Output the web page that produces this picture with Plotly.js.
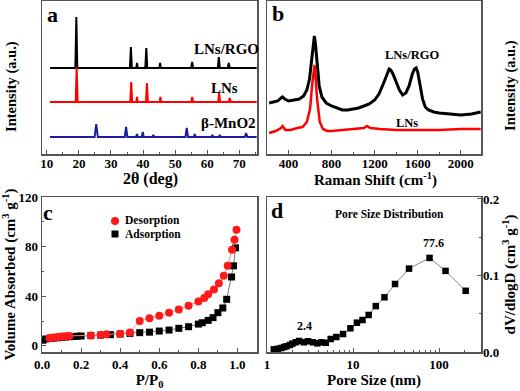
<!DOCTYPE html>
<html>
<head>
<meta charset="utf-8">
<script src="https://cdn.plot.ly/plotly-3.0.1.min.js"></script>
<style>
  html, body { margin: 0; padding: 0; background: #fff; }
  #chart { width: 520px; height: 391px; }
</style>
</head>
<body>
<div id="chart"></div>
<script>
// (a) XRD patterns, 2θ in degrees, intensity in arbitrary units (offset per curve)
const xrdRgoX = [11, 18.9, 19.2, 19.5, 35.9, 36.2, 36.5, 37.9, 38.1, 38.3, 40.7, 41.0, 41.3, 45.1, 45.3, 45.5,
                 55.0, 55.3, 55.6, 63.3, 63.6, 63.9, 66.4, 66.7, 67.0, 75.4];
const xrdRgoY = [86, 86, 137, 86, 86, 107, 86, 86, 91, 86, 86, 106, 86, 86, 91, 86,
                 86, 92, 86, 86, 97, 86, 86, 91, 86, 86];
const xrdLnsX = [11, 19.0, 19.3, 19.6, 36.0, 36.3, 36.6, 37.9, 38.1, 38.3, 40.9, 41.2, 41.5, 45.2, 45.4, 45.6,
                 55.0, 55.3, 55.6, 63.4, 63.7, 64.0, 66.7, 67.0, 67.3, 75.4];
const xrdLnsY = [52, 52, 87, 52, 52, 72, 52, 52, 57, 52, 52, 71, 52, 52, 57, 52,
                 52, 57, 52, 52, 61, 52, 52, 56, 52, 52];
const xrdMnoX = [11, 24.9, 25.4, 25.9, 34.3, 34.7, 35.1, 37.8, 38.1, 38.4, 39.6, 39.9, 40.2, 42.9, 43.2, 43.5,
                 53.2, 53.6, 54.0, 55.8, 56.1, 56.4, 61.3, 61.6, 61.9, 63.6, 63.9, 64.2, 71.7, 72.1, 72.5, 75.4];
const xrdMnoY = [17, 17, 30, 17, 17, 27, 17, 17, 20, 17, 17, 22, 17, 17, 19, 17,
                 17, 26, 17, 17, 20, 17, 17, 19, 17, 17, 19, 17, 17, 21, 17, 17];

// (b) Raman spectra, shift in cm-1
const ramRgoX = [220, 260, 300, 330, 345, 365, 400, 450, 500, 540, 570, 595, 615, 630, 640, 650, 665, 685, 710,
                 750, 800, 850, 900, 950, 1000, 1050, 1100, 1150, 1200, 1240, 1280, 1310, 1335, 1350, 1370, 1400,
                 1430, 1460, 1490, 1520, 1550, 1570, 1585, 1600, 1620, 1645, 1670, 1700, 1750, 1800, 1900, 2000,
                 2100, 2185];
const ramRgoY = [51, 52, 53, 56, 57, 55, 53, 54, 55, 58, 64, 75, 95, 112, 118, 110, 88, 68, 57,
                 51, 48, 46, 44, 44, 45, 46, 48, 50, 54, 60, 70, 79, 85, 84, 80, 72,
                 64, 59, 61, 68, 80, 85, 86, 82, 70, 55, 47, 44, 42, 41, 40, 39,
                 40, 42];
const ramLnsX = [220, 280, 330, 345, 370, 420, 480, 530, 570, 600, 620, 635, 642, 650, 665, 690, 720, 760, 800,
                 900, 1000, 1100, 1130, 1160, 1250, 1400, 1600, 1800, 2000, 2185];
const ramLnsY = [21, 23, 26, 28, 24, 24, 26, 27, 32, 45, 70, 88, 89, 80, 55, 32, 25, 23, 23,
                 24, 25, 26, 28, 26, 25, 24, 24, 24, 25, 25];

// (c) N2 isotherms
const adsP = [0.005, 0.02, 0.04, 0.06, 0.08, 0.10, 0.12, 0.14, 0.16, 0.18, 0.20, 0.25, 0.30, 0.35, 0.40, 0.45,
              0.50, 0.55, 0.60, 0.65, 0.70, 0.75, 0.80, 0.82, 0.85, 0.875, 0.90, 0.925, 0.945, 0.97, 0.98, 0.99];
const adsV = [4.5, 5.5, 6.0, 6.2, 6.5, 6.8, 7.1, 7.3, 7.5, 7.7, 7.9, 8.2, 8.6, 9.0, 9.5, 10.0,
              10.6, 11.0, 11.9, 12.7, 14.1, 15.4, 17.5, 18.6, 20.5, 22.7, 26.7, 30.5, 37.5, 55.5, 64.5, 79];
const desP = [0.038, 0.055, 0.072, 0.089, 0.106, 0.123, 0.14, 0.25, 0.30, 0.33, 0.40, 0.45,
              0.50, 0.55, 0.60, 0.65, 0.70, 0.75, 0.80, 0.83, 0.85, 0.88, 0.905, 0.93, 0.95, 0.972, 0.985, 0.995];
const desV = [6.3, 6.6, 6.9, 7.2, 7.5, 7.8, 8.0, 8.4, 8.8, 9.3, 9.8, 10.8,
              20, 22.3, 24.3, 26.6, 29.2, 32.3, 35.8, 38.6, 41.5, 45.5, 50.5, 56.5, 64.5, 77.5, 85.5, 93.5];

// (d) pore size distribution
const poreD = [1.20, 1.34, 1.47, 1.58, 1.68, 1.84, 1.97, 2.16, 2.36, 2.67, 3.0, 3.43, 3.85, 4.29, 4.82,
               5.5, 6.4, 7.66, 9.33, 11.1, 12.9, 15.2, 18.4, 23.2, 30.8, 44.8, 77.6, 119, 204];
const poreV = [0.0035, 0.0043, 0.0052, 0.0065, 0.0074, 0.0091, 0.0109, 0.0127, 0.0144, 0.0127, 0.014, 0.0127,
               0.0113, 0.0127, 0.012, 0.017, 0.0196, 0.0235, 0.031, 0.0383, 0.0418, 0.0484, 0.060, 0.0715,
               0.0889, 0.109, 0.123, 0.106, 0.080];

const FONT = 'Liberation Serif';
const FRAME = '#555';

// pixel helpers for the paper-positioned labels
const W = 520, H = 391;
const px = x => x / W;
const py = y => 1 - y / H;

const traces = [
    { x: xrdRgoX, y: xrdRgoY, xaxis: 'x', yaxis: 'y', mode: 'lines', line: { color: '#000', width: 2 } },
    { x: xrdLnsX, y: xrdLnsY, xaxis: 'x', yaxis: 'y', mode: 'lines', line: { color: '#ff0000', width: 2 } },
    { x: xrdMnoX, y: xrdMnoY, xaxis: 'x', yaxis: 'y', mode: 'lines', line: { color: '#1c1ca0', width: 2 } },

    { x: ramRgoX, y: ramRgoY, xaxis: 'x2', yaxis: 'y2', mode: 'lines', line: { color: '#000', width: 3 } },
    { x: ramLnsX, y: ramLnsY, xaxis: 'x2', yaxis: 'y2', mode: 'lines', line: { color: '#ff0000', width: 2.5 } },

    { x: adsP, y: adsV, xaxis: 'x3', yaxis: 'y3', mode: 'lines+markers',
      line: { color: '#777', width: 1 }, marker: { symbol: 'square', size: 7, color: '#000' } },
    { x: desP, y: desV, xaxis: 'x3', yaxis: 'y3', mode: 'lines+markers',
      line: { color: '#ff8a8a', width: 1 }, marker: { symbol: 'circle', size: 8, color: '#ff1a1a' } },

    { x: poreD, y: poreV, xaxis: 'x4', yaxis: 'y4', mode: 'lines+markers',
      line: { color: '#888', width: 1 }, marker: { symbol: 'square', size: 6.5, color: '#000' } }
];

const frame = {
    showline: true, mirror: true, linecolor: FRAME, linewidth: 1.5,
    showgrid: false, zeroline: false, ticks: 'inside', ticklen: 4, tickcolor: FRAME,
    tickfont: { size: 13 }
};
const bold15 = { size: 15, family: FONT, weight: 'bold' };

const domXL = [px(42), px(257)];
const domXR = [px(267), px(481)];
const domYT = [py(154), py(1)];
const domYB = [py(352), py(197)];

// small hand-made legend for panel c (marker + text)
const legendShapes = [
    { type: 'circle', x0: px(111), x1: px(119), y0: py(225), y1: py(217),
      fillcolor: '#ff1a1a', line: { width: 0 } },
    { type: 'rect', x0: px(111.5), x1: px(118.5), y0: py(237.5), y1: py(230.5),
      fillcolor: '#000', line: { width: 0 } }
].map(s => Object.assign({ xref: 'paper', yref: 'paper' }, s));

const layout = {
    width: W, height: H,
    margin: { l: 0, r: 0, t: 0, b: 0 },
    paper_bgcolor: '#fff', plot_bgcolor: '#fff',
    showlegend: false,
    font: { family: FONT, size: 13, color: '#000', weight: 'bold' },
    xaxis: Object.assign({}, frame, {
        domain: domXL, anchor: 'y', range: [8.5, 75.5], tick0: 10, dtick: 10, ticklabelstandoff: -3,
        minor: { ticks: 'inside', ticklen: 2, dtick: 5, tickcolor: FRAME }
    }),
    yaxis: Object.assign({}, frame, {
        domain: domYT, anchor: 'x', range: [0, 153], ticks: '', showticklabels: false
    }),
    xaxis2: Object.assign({}, frame, {
        domain: domXR, anchor: 'y2', range: [200, 2188], tick0: 400, dtick: 400, ticklabelstandoff: -3,
        minor: { ticks: 'inside', ticklen: 2, dtick: 200, tickcolor: FRAME }
    }),
    yaxis2: Object.assign({}, frame, {
        domain: domYT, anchor: 'x2', side: 'right', range: [0, 153], ticks: '', showticklabels: false
    }),
    xaxis3: Object.assign({}, frame, {
        domain: domXL, anchor: 'y3', range: [0, 1.1], tick0: 0, dtick: 0.2, tickformat: '.1f',
        minor: { ticks: 'inside', ticklen: 2, dtick: 0.1, tickcolor: FRAME },
        title: { text: 'P/P<sub>0</sub>', font: bold15, standoff: 3 }
    }),
    yaxis3: Object.assign({}, frame, {
        domain: domYB, anchor: 'x3', range: [-5, 120], tick0: 0, dtick: 40,
        minor: { ticks: 'inside', ticklen: 2, dtick: 20, tickcolor: FRAME },
        title: { text: 'Volume Absorbed (cm<sup>3</sup> g<sup>-1</sup>)', font: bold15, standoff: 2 }
    }),
    xaxis4: Object.assign({}, frame, {
        domain: domXR, anchor: 'y4', type: 'log', range: [0, 2.488],
        tickmode: 'array', tickvals: [1, 10, 100], ticktext: ['1', '10', '100'],
        minor: { ticks: 'inside', ticklen: 2, tickcolor: FRAME, tickmode: 'array',
                 tickvals: [2, 3, 4, 5, 6, 7, 8, 9, 20, 30, 40, 50, 60, 70, 80, 90, 200, 300] },
        title: { text: 'Pore Size (nm)', font: bold15, standoff: 3 }
    }),
    yaxis4: Object.assign({}, frame, {
        domain: domYB, anchor: 'x4', side: 'right', range: [0, 0.2026], tick0: 0, dtick: 0.1, tickformat: '.1f',
        ticklabelstandoff: -2,
        minor: { ticks: 'inside', ticklen: 2, dtick: 0.05, tickcolor: FRAME },
        title: { text: 'dV/dlogD (cm<sup>3</sup> g<sup>-1</sup>)', font: bold15, standoff: 6 }
    }),
    shapes: legendShapes,
    annotations: [
        // axis titles of the two top panels, placed by hand
        { text: '2θ (deg)', x: px(150), y: py(179.5), font: { size: 16 } },
        { text: 'Raman Shift (cm<sup>-1</sup>)', x: px(375), y: py(179.5), font: { size: 15 } },
        { text: 'Intensity (a.u.)', x: px(12), y: py(87), textangle: -90, font: { size: 14.5 } },
        { text: 'Intensity (a.u.)', x: px(510), y: py(86), textangle: -90, font: { size: 14.5 } },
        { text: 'a', x: px(52), y: py(15), font: { size: 22 } },
        { text: 'b', x: px(278), y: py(14), font: { size: 22 } },
        { text: 'c', x: px(48), y: py(212), font: { size: 22 } },
        { text: 'd', x: px(277), y: py(211), font: { size: 22 } },
        { text: 'LNs/RGO', x: px(226), y: py(49), font: { size: 15 } },
        { text: 'LNs', x: px(224), y: py(88), font: { size: 15 } },
        { text: 'β-MnO2', x: px(228), y: py(123), font: { size: 15 } },
        { text: 'LNs/RGO', x: px(412), y: py(55), font: { size: 12.5 } },
        { text: 'LNs', x: px(407), y: py(123), font: { size: 12.5 } },
        { text: 'Desorption', x: px(124), y: py(221), xanchor: 'left', font: { size: 11.5 } },
        { text: 'Adsorption', x: px(124), y: py(234), xanchor: 'left', font: { size: 11.5 } },
        { text: 'Pore Size Distribution', x: px(389), y: py(214), font: { size: 11.5 } },
        { text: '2.4', x: px(304), y: py(326), font: { size: 12 } },
        { text: '77.6', x: px(433), y: py(243), font: { size: 12 } }
    ].map(a => Object.assign({ xref: 'paper', yref: 'paper', showarrow: false, borderpad: 0,
                               xanchor: 'center', yanchor: 'middle' }, a))
};

Plotly.newPlot('chart', traces, layout, { displayModeBar: false, staticPlot: true });
</script>
</body>
</html>
